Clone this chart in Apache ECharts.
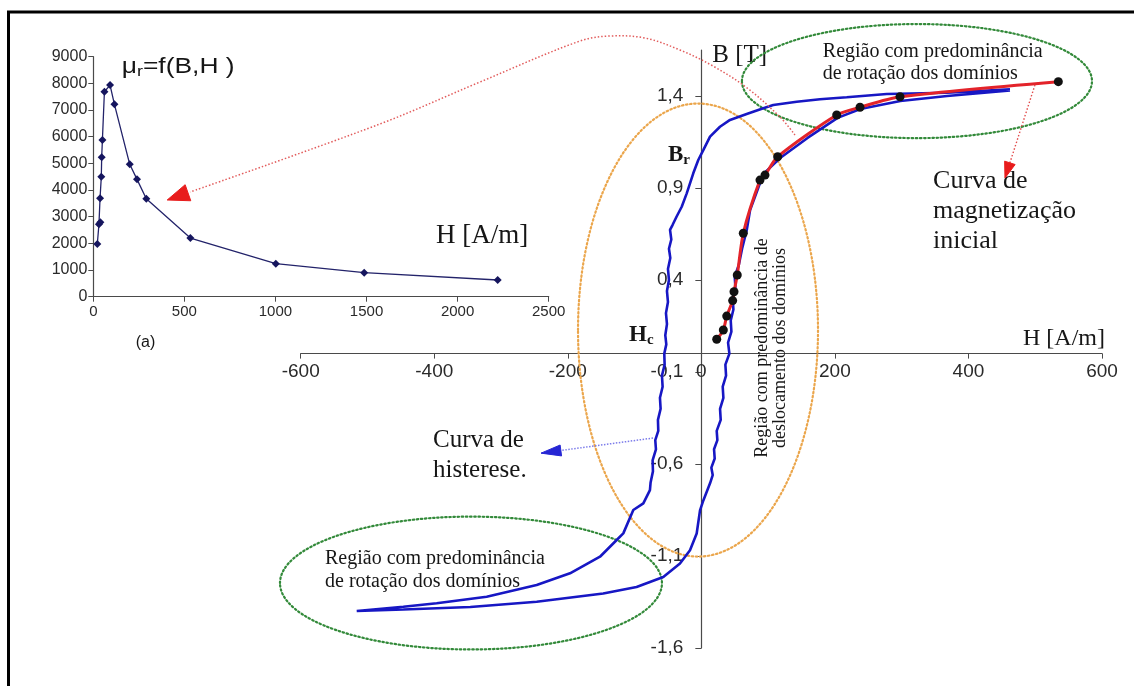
<!DOCTYPE html>
<html>
<head>
<meta charset="utf-8">
<script src="https://cdn.jsdelivr.net/npm/echarts@6/dist/echarts.min.js"></script>
<style>
  html, body { margin: 0; padding: 0; background: #fff; }
  #chart { width: 1134px; height: 686px; }
</style>
</head>
<body>
<div id="chart"></div>
<script>
// Inset (a): relative permeability vs field strength
const muH = [22, 31, 39, 37, 44, 46, 50, 61, 92, 116, 200, 240, 291, 533, 1002, 1487, 2220];
const muR = [1976, 2715, 2790, 3690, 4500, 5227, 5876, 7687, 7937, 7213, 4965, 4400, 3675, 2200, 1237, 900, 626];

// Hysteresis loop: descending branch (from +saturation) then ascending branch
const loopH = [
  462.2, 367.4, 277.6, 217.7, 177.7, 142.8, 107.7, 92.8, 67.9, 42.9, 27.9, 13.0, 2.9, -4.6, -12.1, -21.9, -29.4,
  -37, -43, -46.9, -45, -48.5, -46.5, -50, -48.5, -51.5, -50, -53, -51.5, -54, -52.5, -55.5, -55, -59, -58, -62,
  -61, -65, -64.5, -69, -68, -73, -72.5, -76, -77, -86.9, -101.9, -116.9, -126.8, -151.8, -196.7, -246.6, -321.5,
  -396.4, -446.3, -516.1,
  -446.3, -346, -246.6, -147, -97, -57, -32, -17, -7, -2, 3, 13, 17, 15, 20, 19, 24, 23, 29, 28, 33, 32, 37, 36,
  42, 40, 45, 44, 48, 47, 51, 50, 56, 61, 68, 73, 93, 118, 159, 204, 238, 298, 368, 462.2
];
const loopB = [
  1.436, 1.418, 1.411, 1.393, 1.382, 1.369, 1.351, 1.333, 1.302, 1.270, 1.233, 1.179, 1.106, 1.052, 0.980, 0.871, 0.798,
  0.745, 0.70, 0.672, 0.62, 0.57, 0.52, 0.46, 0.40, 0.34, 0.28, 0.22, 0.16, 0.10, 0.05, 0.00, -0.06, -0.12, -0.18, -0.24,
  -0.30, -0.36, -0.42, -0.47, -0.52, -0.58, -0.64, -0.70, -0.742, -0.814, -0.850, -0.977, -1.013, -1.104, -1.194, -1.258, -1.321,
  -1.357, -1.376, -1.399,
  -1.391, -1.377, -1.349, -1.304, -1.268, -1.214, -1.141, -1.069, -0.978, -0.852, -0.798, -0.705, -0.66, -0.62, -0.57, -0.52, -0.47, -0.42, -0.36, -0.30, -0.24, -0.18, -0.12, -0.06,
  0.00, 0.06, 0.12, 0.18, 0.24, 0.30, 0.36, 0.42, 0.48, 0.57, 0.672, 0.780, 0.977, 1.063, 1.172, 1.281, 1.329, 1.373, 1.400, 1.430
];

// Initial magnetization curve (measured points)
const initH = [23.0, 32.9, 38.0, 46.9, 48.9, 53.8, 62.8, 87.8, 95.3, 114.3, 202.7, 237.6, 297.5, 534.6];
const initB = [0.078, 0.128, 0.204, 0.288, 0.336, 0.427, 0.654, 0.943, 0.970, 1.070, 1.297, 1.339, 1.396, 1.478];

// Tick values
const hTicks = [-600, -400, -200, 0, 200, 400, 600];
const bTicks = [-1.6, -1.1, -0.6, -0.1, 0.4, 0.9, 1.4];

const SANS = '"Liberation Sans", Arial, sans-serif';
const SERIF = '"Liberation Serif", "Times New Roman", serif';
const INK = '#161616';
const AXIS = '#4a4a4a';

// Main plot frame and ranges; axes cross at H = 0, B = 0
const W = 1134, HGT = 686;
const main = { left: 300.7, right: 32, top: 50, bottom: 38 };
const hMin = -600, hMax = 600, bMin = -1.6, bMax = 1.65;
const mainW = W - main.left - main.right;
const mainHt = HGT - main.top - main.bottom;
const yAxisShift = -mainW * (0 - hMin) / (hMax - hMin);   // move B axis to H = 0
const xAxisShift = -mainHt * (0 - bMin) / (bMax - bMin);  // move H axis to B = 0

const chart = echarts.init(document.getElementById('chart'), null, { renderer: 'canvas' });

const pairs = (xs, ys) => xs.map((x, i) => [x, ys[i]]);

chart.setOption({
  animation: false,
  backgroundColor: '#ffffff',
  grid: [
    { left: 93.3, right: 585.3, top: 56.7, bottom: 389.3, outerBoundsMode: 'none' },
    Object.assign({ outerBoundsMode: 'none' }, main)
  ],
  xAxis: [
    {
      gridIndex: 0, type: 'value', min: 0, max: 2500, interval: 500,
      axisLine: { onZero: false, lineStyle: { color: AXIS, width: 1.2 } },
      axisTick: { show: true, length: 5, lineStyle: { color: AXIS } },
      axisLabel: { color: '#2a2a2a', fontFamily: SANS, fontSize: 15, margin: 8, formatter: v => String(v) },
      splitLine: { show: false }
    },
    {
      gridIndex: 1, type: 'value', min: hMin, max: hMax, interval: 200,
      position: 'bottom', offset: xAxisShift,
      name: 'H [A/m]', nameLocation: 'end', nameGap: 3,
      nameTextStyle: { fontFamily: SERIF, fontSize: 24, color: INK, align: 'right', verticalAlign: 'bottom', padding: [0, 0, 3, 0] },
      axisLine: { onZero: false, lineStyle: { color: AXIS, width: 1.2 } },
      axisTick: { show: true, length: 5, customValues: hTicks, lineStyle: { color: AXIS } },
      axisLabel: { customValues: hTicks, color: '#2a2a2a', fontFamily: SANS, fontSize: 19, margin: 9, formatter: v => String(v) },
      splitLine: { show: false }
    }
  ],
  yAxis: [
    {
      gridIndex: 0, type: 'value', min: 0, max: 9000, interval: 1000,
      axisLine: { show: true, onZero: false, lineStyle: { color: AXIS, width: 1.2 } },
      axisTick: { show: true, length: 5, lineStyle: { color: AXIS } },
      axisLabel: { color: '#2a2a2a', fontFamily: SANS, fontSize: 16, margin: 6, formatter: v => String(v) },
      splitLine: { show: false }
    },
    {
      gridIndex: 1, type: 'value', min: bMin, max: bMax, interval: 0.5,
      position: 'left', offset: yAxisShift,
      name: 'B [T]', nameLocation: 'end', nameGap: -5,
      nameTextStyle: { fontFamily: SERIF, fontSize: 25, color: INK, align: 'left', verticalAlign: 'middle', padding: [0, 0, 0, 11] },
      axisLine: { show: true, onZero: false, lineStyle: { color: AXIS, width: 1.2 } },
      axisTick: { show: true, length: 6, customValues: bTicks, lineStyle: { color: AXIS } },
      axisLabel: {
        customValues: bTicks,
        color: '#2a2a2a', fontFamily: SANS, fontSize: 19, margin: 18,
        formatter: v => bTicks.includes(+(+v).toFixed(2)) ? (+v).toFixed(1).replace('.', ',') : ''
      },
      splitLine: { show: false }
    }
  ],
  series: [
    {
      name: 'μr', type: 'line', xAxisIndex: 0, yAxisIndex: 0,
      data: pairs(muH, muR),
      symbol: 'diamond', symbolSize: 8,
      itemStyle: { color: '#15155e' },
      lineStyle: { color: '#23236a', width: 1.3 },
      z: 3
    },
    {
      name: 'Curva de histerese', type: 'line', xAxisIndex: 1, yAxisIndex: 1,
      data: pairs(loopH, loopB),
      showSymbol: false, symbol: 'none',
      lineStyle: { color: '#1717c4', width: 2.6 },
      z: 3
    },
    {
      name: 'Curva de magnetização inicial', type: 'line', xAxisIndex: 1, yAxisIndex: 1,
      data: pairs(initH, initB),
      smooth: 0.25,
      symbol: 'circle', symbolSize: 9,
      itemStyle: { color: '#111111' },
      lineStyle: { color: '#e3232a', width: 3 },
      z: 4
    }
  ]
});

// Annotation helpers: main-grid (H, B) and inset-grid (H, μr) to pixels
const P = (h, b) => chart.convertToPixel({ gridIndex: 1 }, [h, b]);
const Q = (h, m) => chart.convertToPixel({ gridIndex: 0 }, [h, m]);

function ellipseAt(h, b, rh, rb, color) {
  const c = P(h, b);
  const rx = P(h + rh, b)[0] - c[0];
  const ry = c[1] - P(h, b + rb)[1];
  return {
    type: 'ellipse', z: 1, silent: true,
    shape: { cx: c[0], cy: c[1], rx: rx, ry: ry },
    style: { fill: 'none', stroke: color, lineWidth: 2.2, lineDash: [1.5, 2.6], lineCap: 'round' }
  };
}

function arrowHead(tip, from, len, wid, color) {
  const dx = tip[0] - from[0], dy = tip[1] - from[1];
  const d = Math.hypot(dx, dy), ux = dx / d, uy = dy / d;
  const bx = tip[0] - ux * len, by = tip[1] - uy * len;
  return {
    type: 'polygon', z: 12, silent: true,
    shape: { points: [tip, [bx - uy * wid / 2, by + ux * wid / 2], [bx + uy * wid / 2, by - ux * wid / 2]] },
    style: { fill: color, stroke: color, lineWidth: 1 }
  };
}

function label(pt, text, size, extra, elProps) {
  return Object.assign({
    type: 'text', z: 10, silent: true, x: pt[0], y: pt[1],
    style: Object.assign({
      text: text, x: 0, y: 0, fill: INK,
      fontFamily: SERIF, fontSize: size, align: 'left', verticalAlign: 'middle'
    }, extra || {})
  }, elProps || {});
}

const g = [];

// Frame
g.push({ type: 'line', z: 20, silent: true, shape: { x1: 8.5, y1: 12, x2: 8.5, y2: 686 }, style: { stroke: '#000', lineWidth: 3 } });
g.push({ type: 'line', z: 20, silent: true, shape: { x1: 7, y1: 12, x2: 1134, y2: 12 }, style: { stroke: '#000', lineWidth: 3 } });

// Region ellipses
g.push(ellipseAt(322.9, 1.481, 262.1, 0.310, '#338a3a'));
g.push(ellipseAt(-345.0, -1.247, 286.0, 0.361, '#338a3a'));
g.push(ellipseAt(-5.0, 0.128, 179.7, 1.231, '#eba64c'));

// Region texts
g.push(label(P(181.9, 1.582), 'Região com predominância\nde rotação dos domínios', 20, { lineHeight: 22 }));
g.push(label(P(-563.6, -1.179), 'Região com predominância\nde rotação dos domínios', 20, { lineHeight: 23 }));
g.push(label(P(104.3, 0.030), 'Região com predominância de\ndeslocamento dos domínios', 18,
  { lineHeight: 18, align: 'center' }, { rotation: Math.PI / 2 }));
g.push(label(P(347.0, 0.775), 'Curva de\nmagnetização\ninicial', 26, { lineHeight: 30 }));
g.push(label(P(-401.9, -0.551), 'Curva de\nhisterese.', 25, { lineHeight: 30 }));

// Remanence and coercivity markers
const subRich = {
  b: { fontFamily: SERIF, fontSize: 23, fontWeight: 'bold', fill: INK, lineHeight: 26, verticalAlign: 'middle' },
  s: { fontFamily: SERIF, fontSize: 15, fontWeight: 'bold', fill: INK, lineHeight: 14, verticalAlign: 'bottom' }
};
g.push(label(P(-49.9, 1.079), '{b|B}{s|r}', 23, { rich: subRich }));
g.push(label(P(-108.3, 0.101), '{b|H}{s|c}', 23, { rich: subRich }));

// Arrow: hysteresis label
(function () {
  const a = P(-72.4, -0.459), tip = P(-240.1, -0.541);
  g.push({ type: 'line', z: 11, silent: true, shape: { x1: a[0], y1: a[1], x2: tip[0], y2: tip[1] },
    style: { stroke: '#7c7cea', lineWidth: 1.5, lineDash: [1.5, 1.5] } });
  g.push(arrowHead(tip, a, 20, 11, '#2626d4'));
})();

// Arrow: initial magnetization label
(function () {
  const a = P(499.6, 1.460), tip = P(454.7, 0.954);
  g.push({ type: 'line', z: 11, silent: true, shape: { x1: a[0], y1: a[1], x2: tip[0], y2: tip[1] },
    style: { stroke: '#e24a4a', lineWidth: 1.4, lineDash: [1.5, 2] } });
  g.push(arrowHead(tip, a, 16, 11, '#e81c1c'));
})();

// Arc arrow from the curve to the permeability plot
(function () {
  const pts = [
    P(140.2, 1.188), P(117.7, 1.286), P(68.4, 1.444), P(17.4, 1.563), P(-32.0, 1.650),
    P(-84.4, 1.715), P(-136.8, 1.726), P(-181.7, 1.699), P(-331.5, 1.476), P(-481.3, 1.248),
    Q(531, 3926)
  ];
  const tip = Q(405.7, 3626);
  g.push({ type: 'polyline', z: 11, silent: true, shape: { points: pts, smooth: 0.35 },
    style: { stroke: '#e25c5c', lineWidth: 1.5, lineDash: [1.5, 2], fill: 'none' } });
  g.push(arrowHead(tip, pts[pts.length - 1], 22, 17, '#e81c1c'));
})();

// Inset texts
g.push(label(Q(156, 8625), '{a|μ}{s|r}{a|=f(B,H )}', 22, {
  rich: {
    a: { fontFamily: SANS, fontSize: 22, fill: INK, lineHeight: 26, verticalAlign: 'middle' },
    s: { fontFamily: SANS, fontSize: 15, fill: INK, lineHeight: 14, verticalAlign: 'bottom' }
  }
}, { scaleX: 1.2 }));
g.push(label(Q(1881, 2276), 'H [A/m]', 27));
g.push(label(Q(286.5, -1736), '(a)', 16, { fontFamily: SANS, align: 'center' }));

chart.setOption({ graphic: { elements: g } });
</script>
</body>
</html>
